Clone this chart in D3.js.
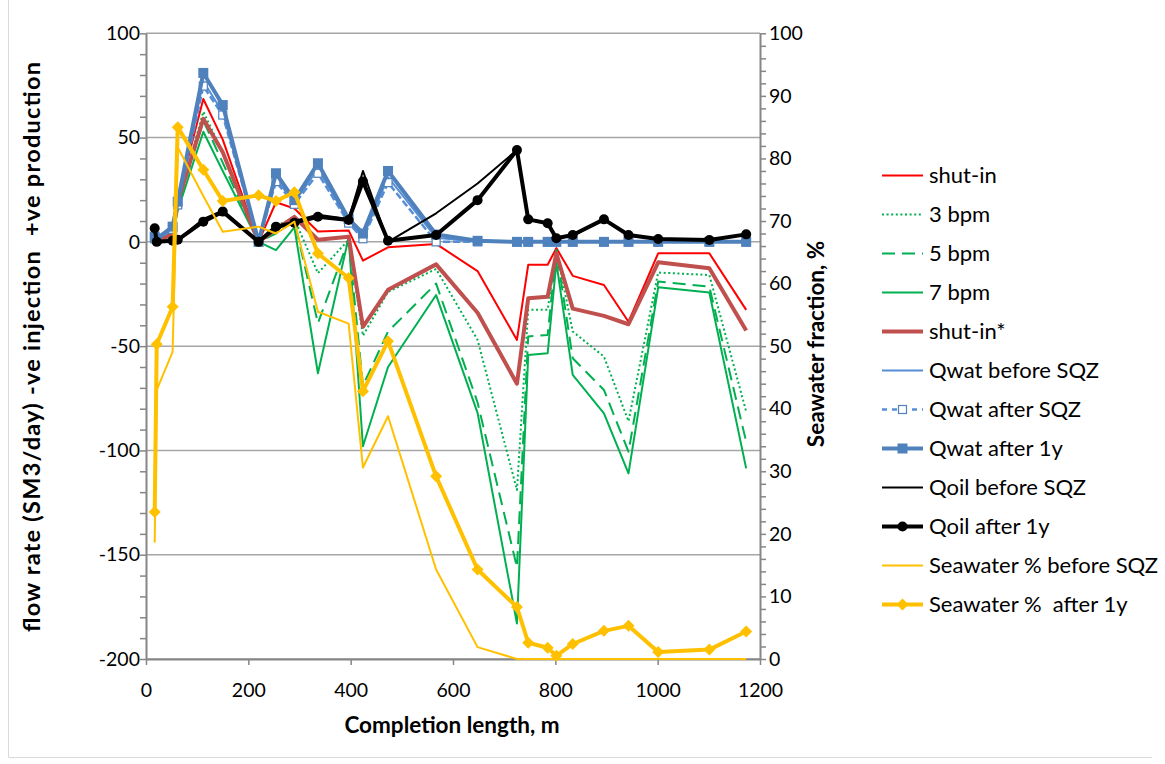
<!DOCTYPE html>
<html><head><meta charset="utf-8">
<script src="https://cdnjs.cloudflare.com/ajax/libs/d3/7.8.5/d3.min.js"></script>
<style>
body{margin:0;background:#fff;}
svg text{font-family:Lato,"Open Sans",sans-serif;fill:#000;}
</style></head>
<body><svg id="c" width="1165" height="764"></svg>
<script>
const xVals = [17, 21, 52, 62, 112, 150, 220, 254, 290, 336, 396, 424, 473, 567, 648, 725, 747, 785, 802, 834, 895, 943, 1001, 1101, 1173];
const shutIn = [1, 0, 4, 21, 68.5, 49, 0, 19, 16, 5, 5.5, -9, -2.6, -1, -14, -47, -11, -11, -3, -16.3, -20.7, -38.3, -5.5, -5.5, -32.6];
const bpm3 = [1, 0, 4, 18, 62.4, 43, 0, 8, 11, -15, 1, -45, -24, -13, -47, -119, -32.6, -32.6, -3.5, -43, -55, -86, -14.7, -15.9, -81.4];
const bpm5 = [1, 0, 3, 17, 58, 38, 0, 4, 10, -39, 1, -69, -43, -20, -77, -156, -45.4, -44.6, -4, -55.8, -71, -100.6, -19, -21.5, -95.8];
const bpm7 = [1, 0, 3, 15, 52.8, 34, 0, -4, 7, -63, 2, -98, -60, -25.5, -82, -183, -54.2, -53.4, -10, -63.8, -82.2, -111, -21.8, -24.3, -108.6];
const shutInStar = [1, 0, 4, 19, 59, 43, 0, 6, 12, 1, 2.5, -40.7, -23, -10.8, -34, -68, -27, -26.3, -5.5, -32, -35.5, -39.5, -9.8, -12.6, -42.5];
const qwatBefore = [2, 1, 6, 18, 77, 62, 0, 30, 19, 35, 10, 2, 31, 2, 0, 0, 0, 0, 0, 0, 0, 0, 0, 0, 0];
const qwatAfterSqz = [1.5, 1, 6, 17.7, 74.7, 60.8, 0, 28.9, 18, 32.9, 9, 1.5, 28.4, 0, 0, 0, 0, 0, 0, 0, 0, 0, 0, 0, 0];
const qwat1y = [2.5, 1.5, 7.3, 19.3, 81, 65.6, 0, 32.9, 20, 37.7, 11, 4, 34, 3.5, 0.5, 0, 0, 0, 0, 0, 0, 0, 0, 0, 0];
const qoilBefore = [5, 0, 0.5, 1, 11, 15, 0, 6, 10, 13, 11, 34, 0, 13.7, 28, 44, 11, 9, 2, 3, 10.8, 3.3, 1.4, 0.9, 3.6];
const qoil1y = [6.5, 0, 0.5, 1, 9.7, 14.5, 0, 7.3, 9.2, 12, 10.5, 29, 0.5, 3.3, 20, 44, 10.8, 8.9, 1.7, 3.3, 10.8, 3.3, 1.4, 0.9, 3.6];
const swBefore = [18.6, 43, 49.1, 81.8, 74, 68.3, 69.1, 68, 69.9, 55.5, 53.6, 30.6, 38.8, 14.3, 1.9, 0, 0, 0, 0, 0, 0, 0, 0, 0, 0];
const sw1y = [23.5, 50.3, 56.3, 85, 78.2, 73.2, 74.1, 73.2, 74.6, 64.8, 60.9, 42.8, 50.8, 29.2, 14.3, 8.3, 2.6, 1.8, 0.5, 2.4, 4.5, 5.3, 1.1, 1.5, 4.4];

const leftTicks = [100, 50, 0, -50, -100, -150, -200];
const rightTicks = [100, 90, 80, 70, 60, 50, 40, 30, 20, 10, 0];
const xTicks = [0, 200, 400, 600, 800, 1000, 1200];

const series = [
  {name:"shut-in", vals:shutIn, axis:"L", color:"#ff0000", w:2, dash:null, marker:null},
  {name:"3 bpm", vals:bpm3, axis:"L", color:"#00b050", w:2, dash:"2,2.6", marker:null},
  {name:"5 bpm", vals:bpm5, axis:"L", color:"#00b050", w:2, dash:"13,7", marker:null},
  {name:"7 bpm", vals:bpm7, axis:"L", color:"#00b050", w:2, dash:null, marker:null},
  {name:"shut-in*", vals:shutInStar, axis:"L", color:"#c0504d", w:4, dash:null, marker:null},
  {name:"Qwat before SQZ", vals:qwatBefore, axis:"L", color:"#558ed5", w:2, dash:null, marker:null},
  {name:"Qwat after SQZ", vals:qwatAfterSqz, axis:"L", color:"#558ed5", w:2.5, dash:"7,3", marker:"hsq"},
  {name:"Qwat after 1y", vals:qwat1y, axis:"L", color:"#4f81bd", w:4, dash:null, marker:"sq"},
  {name:"Qoil before SQZ", vals:qoilBefore, axis:"L", color:"#000000", w:2, dash:null, marker:null},
  {name:"Qoil after 1y", vals:qoil1y, axis:"L", color:"#000000", w:4, dash:null, marker:"circ"},
  {name:"Seawater % before SQZ", vals:swBefore, axis:"R", color:"#ffc000", w:2, dash:null, marker:null},
  {name:"Seawater %  after 1y", vals:sw1y, axis:"R", color:"#ffc000", w:4, dash:null, marker:"dia"}
];

const svg = d3.select("#c");
const X0 = 146, X1 = 760, YT = 33.3, YB = 659;
const x = d3.scaleLinear().domain([0,1200]).range([X0,X1]);
const yL = d3.scaleLinear().domain([-200,100]).range([YB,YT]);
const yR = d3.scaleLinear().domain([0,100]).range([YB,YT]);

// outer border
svg.append("path").attr("d","M8.5,0 V757.5 H1152").attr("fill","none").attr("stroke","#d9d9d9").attr("stroke-width",1);

// gridlines
svg.append("g").selectAll("line").data(leftTicks).join("line")
  .attr("x1",X0).attr("x2",X1).attr("y1",d=>yL(d)).attr("y2",d=>yL(d))
  .attr("stroke","#a6a6a6").attr("stroke-width",1.5);

const axisColor = "#868686";
function styleAxis(g){
  g.select(".domain").attr("stroke",axisColor).attr("stroke-width",2);
  g.selectAll(".tick line").attr("stroke",axisColor).attr("stroke-width",1.5);
  g.selectAll(".tick text").attr("font-size","19.5px").attr("fill","#000");
}
// left axis
const gL = svg.append("g").attr("transform",`translate(${X0},0)`)
  .call(d3.axisLeft(yL).tickValues(d3.range(-200,101,10)).tickSize(6).tickSizeOuter(0)
        .tickFormat(d=> leftTicks.includes(d) ? String(d) : ""));
styleAxis(gL); gL.selectAll(".tick text").attr("x",-6);
// right axis
const gR = svg.append("g").attr("transform",`translate(${X1},0)`)
  .call(d3.axisRight(yR).tickValues(d3.range(0,101,2)).tickSize(6).tickSizeOuter(0)
        .tickFormat(d=> rightTicks.includes(d) ? String(d) : ""));
styleAxis(gR); gR.selectAll(".tick text").attr("x",9);
// bottom axis
const gB = svg.append("g").attr("transform",`translate(0,${YB})`)
  .call(d3.axisBottom(x).tickValues(xTicks).tickSize(6).tickSizeOuter(0).tickFormat(d=>String(d)));
styleAxis(gB); gB.selectAll(".tick text").attr("y",24);

// series lines
const plot = svg.append("g");
series.forEach(s=>{
  const ys = s.axis==="L" ? yL : yR;
  const pts = xVals.map((xv,i)=>[xv, s.vals[i]]);
  const line = d3.line().x(d=>x(d[0])).y(d=>ys(d[1]));
  plot.append("path").attr("d",line(pts)).attr("fill","none")
    .attr("stroke",s.color).attr("stroke-width",s.w)
    .attr("stroke-dasharray",s.dash).attr("stroke-linejoin","round");
  if(s.marker){
    const mg = plot.append("g");
    pts.forEach(p=>drawMarker(mg, s, x(p[0]), ys(p[1])));
  }
});

function drawMarker(g, s, cx, cy){
  if(s.marker==="sq"){
    g.append("rect").attr("x",cx-5).attr("y",cy-5).attr("width",10).attr("height",10).attr("fill","#4f81bd");
  } else if(s.marker==="hsq"){
    g.append("rect").attr("x",cx-4).attr("y",cy-4).attr("width",8).attr("height",8).attr("fill","#fff").attr("stroke","#4f81bd").attr("stroke-width",1.2);
  } else if(s.marker==="circ"){
    g.append("circle").attr("cx",cx).attr("cy",cy).attr("r",5).attr("fill","#000");
  } else if(s.marker==="dia"){
    g.append("path").attr("d",`M${cx},${cy-6}L${cx+6},${cy}L${cx},${cy+6}L${cx-6},${cy}Z`).attr("fill","#ffc000");
  }
}

// legend
const lg = svg.append("g");
const legY0 = 175.5, legDY = 39.0;
series.forEach((s,i)=>{
  const yy = legY0 + i*legDY;
  lg.append("line").attr("x1",882).attr("x2",923).attr("y1",yy).attr("y2",yy)
    .attr("stroke",s.color).attr("stroke-width",s.w).attr("stroke-dasharray", s.marker==="hsq" ? "5,5" : s.dash);
  if(s.marker) drawMarker(lg, s, 902.5, yy);
  lg.append("text").attr("x",929).attr("y",yy).attr("dy","0.36em").attr("font-size","22px").style("white-space","pre").text(s.name);
});

// axis titles
svg.append("text").attr("x",452).attr("y",733).attr("text-anchor","middle")
  .attr("font-size","22.5px").attr("font-weight","bold").text("Completion length, m");
svg.append("text").attr("transform","translate(40,347) rotate(-90)").attr("text-anchor","middle")
  .attr("font-size","23.5px").attr("font-weight","bold").style("white-space","pre")
  .attr("textLength",570).attr("lengthAdjust","spacing")
  .text("flow rate (SM3/day) -ve injection  +ve production");
svg.append("text").attr("transform","translate(824,344) rotate(-90)").attr("text-anchor","middle")
  .attr("font-size","22.5px").attr("font-weight","bold").text("Seawater fraction, %");
</script></body></html>
